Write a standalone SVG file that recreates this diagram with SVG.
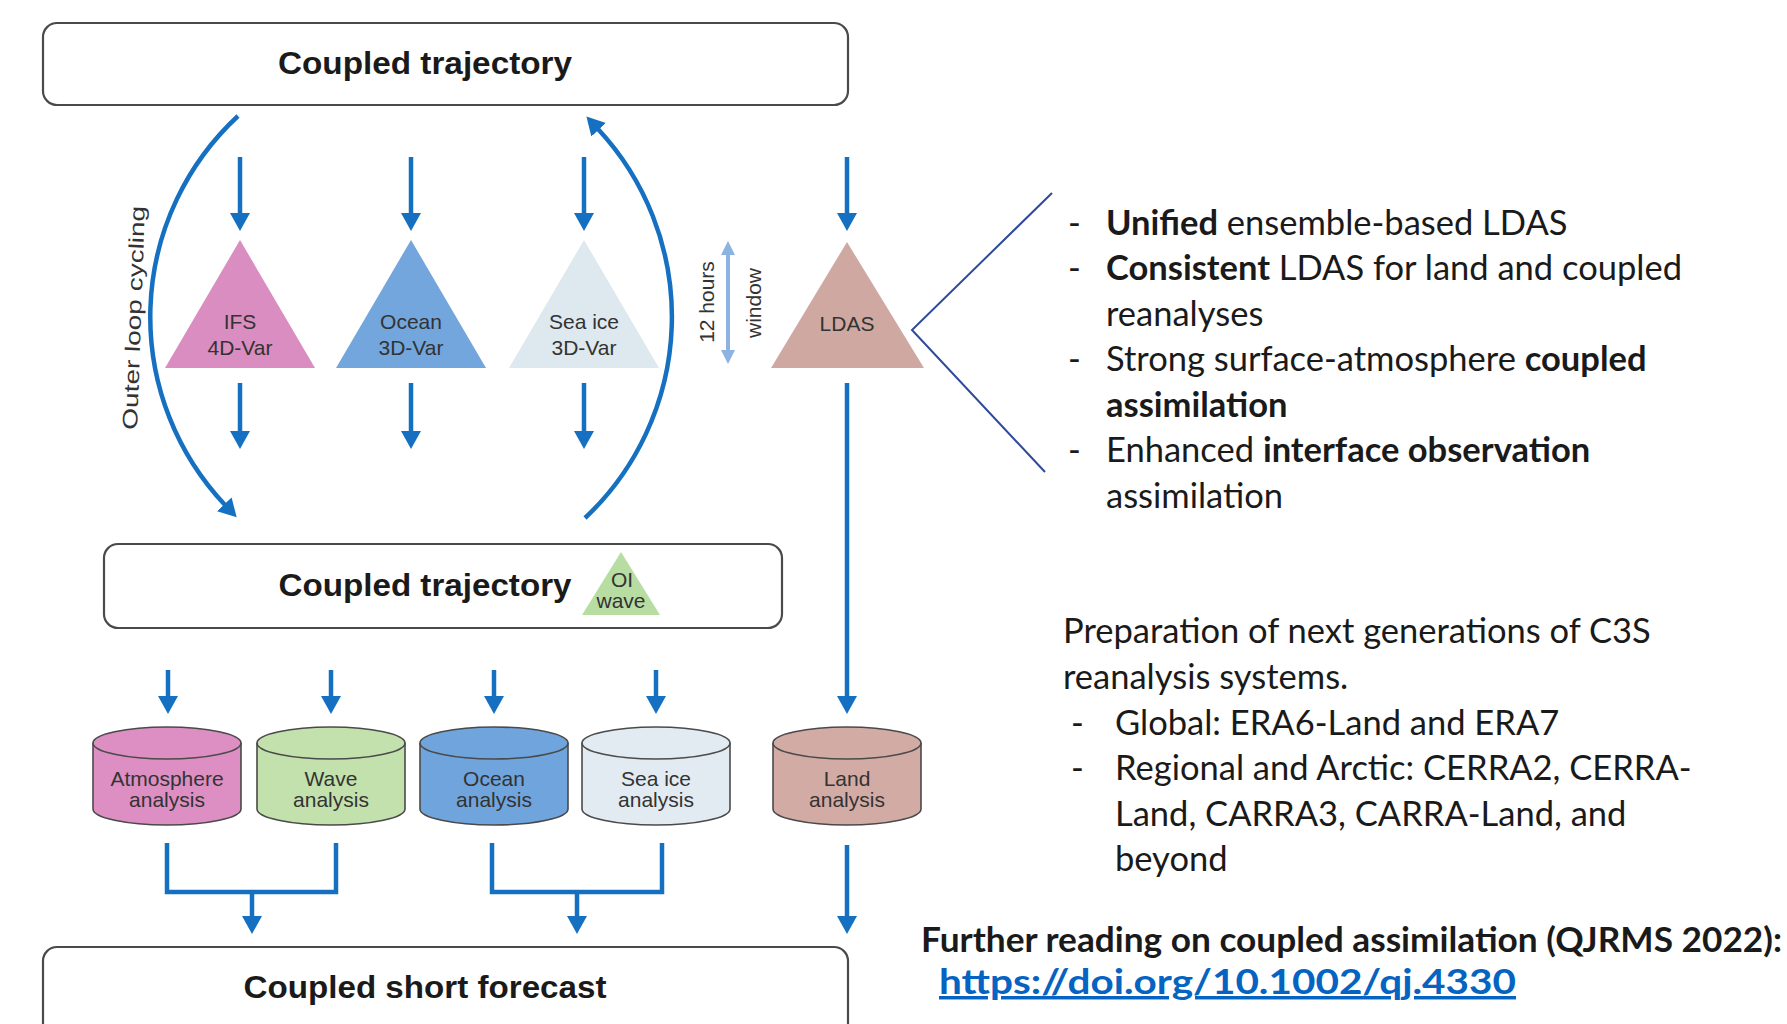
<svg xmlns="http://www.w3.org/2000/svg" width="1787" height="1024" viewBox="0 0 1787 1024">
<defs>
<marker id="ah" markerWidth="18" markerHeight="20" refX="1" refY="10" orient="auto" markerUnits="userSpaceOnUse">
<path d="M0,0 L18,10 L0,20 z" fill="#1570C1"/>
</marker>
<marker id="ahl" markerWidth="14" markerHeight="14" refX="1" refY="7" orient="auto" markerUnits="userSpaceOnUse">
<path d="M0,0 L14,7 L0,14 z" fill="#8DB3E2"/>
</marker>
<marker id="ahls" markerWidth="14" markerHeight="14" refX="13" refY="7" orient="auto" markerUnits="userSpaceOnUse">
<path d="M14,0 L0,7 L14,14 z" fill="#8DB3E2"/>
</marker>
</defs>
<style>
.box{fill:#fff;stroke:#4a4a4a;stroke-width:2.2}
.hdr{font-family:"Liberation Sans",Arial,sans-serif;font-weight:bold;font-size:32px;fill:#1a1a1a;text-anchor:middle}
.lbl{font-family:"Liberation Sans",Arial,sans-serif;font-size:21px;fill:#333;text-anchor:middle}
.cyl{stroke:#4a4a4a;stroke-width:1.6}
.ar{fill:none;stroke:#1570C1;stroke-width:4.5;marker-end:url(#ah)}
.ln{fill:none;stroke:#1570C1;stroke-width:4.5}
.rt{font-family:Lato,"Liberation Sans",sans-serif;font-size:34.5px;fill:#1a1a1a}
.b{font-weight:bold}
.link{fill:#0563C1;text-decoration:underline}
</style>
<rect width="1787" height="1024" fill="#fff"/>

<g id="top-trajectory">
<rect class="box" x="43" y="23" width="805" height="82" rx="14"/>
<text class="hdr" x="425" y="74" textLength="294" lengthAdjust="spacingAndGlyphs">Coupled trajectory</text>
</g>

<g id="outer-loop-label">
<text class="lbl" font-size="26" transform="translate(141,318) rotate(-88)" textLength="224" lengthAdjust="spacingAndGlyphs">Outer loop cycling</text>
</g>

<g id="ifs">
<polygon points="240,240 315,368 165,368" fill="#DA8DC0"/>
<text class="lbl" x="240" y="329">IFS</text>
<text class="lbl" x="240" y="355">4D-Var</text>
</g>
<g id="ocean-var">
<polygon points="411,240 486,368 336,368" fill="#72A6DC"/>
<text class="lbl" x="411" y="329">Ocean</text>
<text class="lbl" x="411" y="355">3D-Var</text>
</g>
<g id="seaice-var">
<polygon points="584,240 659,368 509,368" fill="#DEE8EF"/>
<text class="lbl" x="584" y="329">Sea ice</text>
<text class="lbl" x="584" y="355">3D-Var</text>
</g>
<g id="window-label">
<line x1="728" y1="254" x2="728" y2="351" stroke="#8DB3E2" stroke-width="4" marker-end="url(#ahl)" marker-start="url(#ahls)"/>
<text class="lbl" font-size="26" transform="translate(714,302) rotate(-90)">12 hours</text>
<text class="lbl" font-size="26" transform="translate(761,303) rotate(-90)">window</text>
</g>
<g id="ldas">
<polygon points="847,242 924,368 771,368" fill="#CFA9A1"/>
<text class="lbl" x="847" y="331">LDAS</text>
</g>

<g id="mid-trajectory">
<rect class="box" x="104" y="544" width="678" height="84" rx="14"/>
<text class="hdr" x="425" y="596" textLength="293" lengthAdjust="spacingAndGlyphs">Coupled trajectory</text>
<polygon points="621,552 660,615 582,615" fill="#B8DDA3"/>
<text class="lbl" font-size="18" x="622" y="587">OI</text>
<text class="lbl" font-size="18" x="621" y="608">wave</text>
</g>

<g id="atmosphere-analysis">
<path class="cyl" fill="#DD8FC3" d="M93,743 V809 A74,16 0 0 0 241,809 V743"/>
<ellipse class="cyl" cx="167" cy="743" rx="74" ry="16" fill="#DD8FC3"/>
<text class="lbl" x="167" y="786">Atmosphere</text>
<text class="lbl" x="167" y="807">analysis</text>
</g>
<g id="wave-analysis">
<path class="cyl" fill="#C3E1AC" d="M257,743 V809 A74,16 0 0 0 405,809 V743"/>
<ellipse class="cyl" cx="331" cy="743" rx="74" ry="16" fill="#C3E1AC"/>
<text class="lbl" x="331" y="786">Wave</text>
<text class="lbl" x="331" y="807">analysis</text>
</g>
<g id="ocean-analysis">
<path class="cyl" fill="#70A4DD" d="M420,743 V809 A74,16 0 0 0 568,809 V743"/>
<ellipse class="cyl" cx="494" cy="743" rx="74" ry="16" fill="#70A4DD"/>
<text class="lbl" x="494" y="786">Ocean</text>
<text class="lbl" x="494" y="807">analysis</text>
</g>
<g id="seaice-analysis">
<path class="cyl" fill="#E2EBF1" d="M582,743 V809 A74,16 0 0 0 730,809 V743"/>
<ellipse class="cyl" cx="656" cy="743" rx="74" ry="16" fill="#E2EBF1"/>
<text class="lbl" x="656" y="786">Sea ice</text>
<text class="lbl" x="656" y="807">analysis</text>
</g>
<g id="land-analysis">
<path class="cyl" fill="#D3ABA5" d="M773,743 V809 A74,16 0 0 0 921,809 V743"/>
<ellipse class="cyl" cx="847" cy="743" rx="74" ry="16" fill="#D3ABA5"/>
<text class="lbl" x="847" y="786">Land</text>
<text class="lbl" x="847" y="807">analysis</text>
</g>

<g id="short-forecast">
<rect class="box" x="43" y="947" width="805" height="100" rx="14"/>
<text class="hdr" x="425" y="998" textLength="363" lengthAdjust="spacingAndGlyphs">Coupled short forecast</text>
</g>

<g id="connectors">
<path class="ar" d="M238,116 A274,274 0 0 0 225,505"/>
<path class="ar" d="M585,518 A276,276 0 0 0 598,129"/>
<path class="ar" d="M240,157 V214"/>
<path class="ar" d="M411,157 V214"/>
<path class="ar" d="M584,157 V214"/>
<path class="ar" d="M847,157 V214"/>
<path class="ar" d="M240,383 V432"/>
<path class="ar" d="M411,383 V432"/>
<path class="ar" d="M584,383 V432"/>
<path class="ar" d="M847,383 V697"/>
<path class="ar" d="M168,670 V697"/>
<path class="ar" d="M331,670 V697"/>
<path class="ar" d="M494,670 V697"/>
<path class="ar" d="M656,670 V697"/>
<path class="ln" d="M167,843 V892 H336 V843"/>
<path class="ar" d="M252,892 V917"/>
<path class="ln" d="M492,843 V892 H662 V843"/>
<path class="ar" d="M577,892 V917"/>
<path class="ar" d="M847,845 V917"/>
<polyline points="1052,193 912,330 1045,472" fill="none" stroke="#2E4A9A" stroke-width="2"/>
</g>

<g id="ldas-notes">
<text class="rt" x="1068" y="235">-</text>
<text class="rt" x="1106" y="235"><tspan class="b">Unified</tspan> ensemble-based LDAS</text>
<text class="rt" x="1068" y="280">-</text>
<text class="rt" x="1106" y="280"><tspan class="b">Consistent</tspan> LDAS for land and coupled</text>
<text class="rt" x="1106" y="326">reanalyses</text>
<text class="rt" x="1068" y="371">-</text>
<text class="rt" x="1106" y="371">Strong surface-atmosphere <tspan class="b">coupled</tspan></text>
<text class="rt b" x="1106" y="417">assimilation</text>
<text class="rt" x="1068" y="462">-</text>
<text class="rt" x="1106" y="462">Enhanced <tspan class="b">interface observation</tspan></text>
<text class="rt" x="1106" y="508">assimilation</text>
</g>

<g id="reanalysis-notes">
<text class="rt" x="1063" y="643">Preparation of next generations of C3S</text>
<text class="rt" x="1063" y="689">reanalysis systems.</text>
<text class="rt" x="1071" y="735">-</text>
<text class="rt" x="1115" y="735">Global: ERA6-Land and ERA7</text>
<text class="rt" x="1071" y="780">-</text>
<text class="rt" x="1115" y="780">Regional and Arctic: CERRA2, CERRA-</text>
<text class="rt" x="1115" y="826">Land, CARRA3, CARRA-Land, and</text>
<text class="rt" x="1115" y="871">beyond</text>
</g>

<g id="further-reading">
<text class="rt b" x="921" y="952" textLength="861" lengthAdjust="spacingAndGlyphs">Further reading on coupled assimilation (QJRMS 2022):</text>
<text class="rt b link" x="939" y="994" textLength="577" lengthAdjust="spacingAndGlyphs">https://doi.org/10.1002/qj.4330</text>
</g>
</svg>
